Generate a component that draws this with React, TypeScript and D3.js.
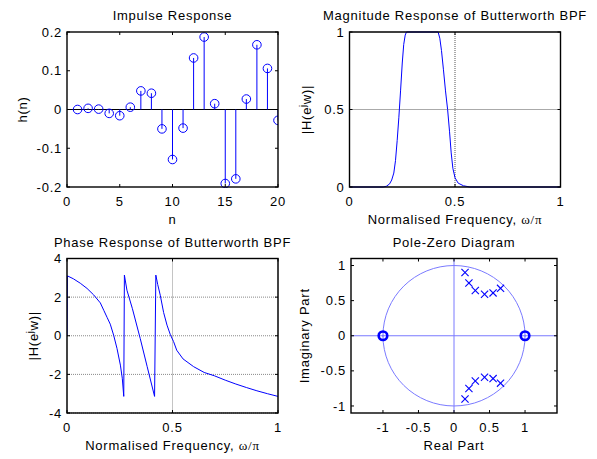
import React from 'react';
import * as d3 from 'd3';

const W = 597;
const H = 459;
const FONT = '"Liberation Sans", Arial, Helvetica, sans-serif';
const FS = 13;
const LS = 0.75;
const BLUE = '#0000ff';
const LIGHTBLUE = '#7a7aff';

// ---- Impulse response ----
const impulseN = [1, 2, 3, 4, 5, 6, 7, 8, 9, 10, 11, 12, 13, 14, 15, 16, 17, 18, 19, 20];
const impulseH = [0.0, 0.003, 0.001, -0.01, -0.016, 0.006, 0.048, 0.042, -0.05, -0.129, -0.048, 0.133, 0.187, 0.015, -0.191, -0.179, 0.027, 0.167, 0.106, -0.028];
const impulseXTicks = [0, 5, 10, 15, 20];
const impulseYTicks = [-0.2, -0.1, 0, 0.1, 0.2];

// ---- Magnitude response ----
const magFreq = [0, 0.16, 0.175, 0.19, 0.2, 0.21, 0.218, 0.226, 0.234, 0.242, 0.25, 0.257, 0.264, 0.27, 0.42, 0.428, 0.436, 0.445, 0.455, 0.465, 0.474, 0.482, 0.49, 0.5, 0.515, 0.54, 0.57, 1];
const magValue = [0, 0, 0.005, 0.02, 0.045, 0.09, 0.17, 0.3, 0.45, 0.62, 0.8, 0.92, 0.98, 1, 1, 0.96, 0.88, 0.76, 0.62, 0.5, 0.36, 0.22, 0.12, 0.06, 0.025, 0.008, 0, 0];
const magXTicks = [0, 0.5, 1];
const magYTicks = [0, 0.5, 1];

// ---- Phase response ----
const phaseFreq = [0, 0.002, 0.03, 0.063, 0.095, 0.126, 0.158, 0.175, 0.19, 0.205, 0.221, 0.237, 0.253, 0.262, 0.269, 0.272, 0.284, 0.31, 0.347, 0.38, 0.415, 0.421, 0.43, 0.442, 0.458, 0.474, 0.49, 0.505, 0.52, 0.55, 0.6, 0.65, 0.7, 0.75, 0.8, 0.85, 0.9, 0.95, 1.0];
const phaseValue = [0, 3.1, 2.95, 2.72, 2.45, 2.12, 1.7, 1.3, 0.95, 0.6, 0.03, -0.66, -1.52, -2.2, -3.14, 3.14, 2.36, 1.4, -0.14, -1.6, -3.14, 3.14, 2.65, 2.1, 1.2, 0.55, 0.05, -0.3, -0.75, -1.2, -1.6, -1.9, -2.08, -2.3, -2.5, -2.68, -2.85, -3.0, -3.14];
const phaseXTicks = [0, 0.5, 1];
const phaseYTicks = [-4, -2, 0, 2, 4];

// ---- Pole-zero ----
const poleRe = [0.155, 0.21, 0.3, 0.43, 0.55, 0.655, 0.155, 0.21, 0.3, 0.43, 0.55, 0.655];
const poleIm = [0.9, 0.75, 0.645, 0.59, 0.61, 0.675, -0.9, -0.75, -0.645, -0.59, -0.61, -0.675];
const zeroRe = [-1, 1];
const zeroIm = [0, 0];
const pzXTicks = [-1, -0.5, 0, 0.5, 1];
const pzYTicks = [-1, -0.5, 0, 0.5, 1];

type Box = { l: number; r: number; t: number; b: number };
type Scale = d3.ScaleLinear<number, number>;

interface AxesProps {
  id: string;
  box: Box;
  xDomain: [number, number];
  yDomain: [number, number];
  xTicks: number[];
  yTicks: number[];
  gridX?: number[];
  gridY?: number[];
  gridColor?: string;
  title: string;
  xlabel: React.ReactNode;
  ylabel: React.ReactNode;
  ylabelX: number;
  children: (x: Scale, y: Scale) => React.ReactNode;
}

function Axes(p: AxesProps) {
  const { box } = p;
  const x = d3.scaleLinear().domain(p.xDomain).range([box.l, box.r]);
  const y = d3.scaleLinear().domain(p.yDomain).range([box.b, box.t]);
  const tl = 3;
  const cx = (box.l + box.r) / 2;
  const cy = (box.t + box.b) / 2;
  const gc = p.gridColor || '#777';
  return (
    <g>
      <defs>
        <clipPath id={p.id}>
          <rect x={box.l} y={box.t - 1} width={box.r - box.l} height={box.b - box.t + 2} />
        </clipPath>
      </defs>
      {(p.gridX || []).map((v) => (
        <line key={'gx' + v} x1={x(v)} x2={x(v)} y1={box.t} y2={box.b} stroke={gc} strokeWidth={1} strokeDasharray="1,1" />
      ))}
      {(p.gridY || []).map((v) => (
        <line key={'gy' + v} x1={box.l} x2={box.r} y1={y(v)} y2={y(v)} stroke={gc} strokeWidth={1} strokeDasharray="1,1" />
      ))}
      <g clipPath={`url(#${p.id})`}>{p.children(x, y)}</g>
      <rect x={box.l} y={box.t} width={box.r - box.l} height={box.b - box.t} fill="none" stroke="#000" strokeWidth={1.4} />
      {p.xTicks.map((v) => (
        <g key={'xt' + v}>
          <line x1={x(v)} x2={x(v)} y1={box.b} y2={box.b - tl} stroke="#000" />
          <line x1={x(v)} x2={x(v)} y1={box.t} y2={box.t + tl} stroke="#000" />
          <text x={x(v)} y={box.b + 19} textAnchor="middle" fontFamily={FONT} fontSize={FS} letterSpacing={LS}>
            {String(v)}
          </text>
        </g>
      ))}
      {p.yTicks.map((v) => (
        <g key={'yt' + v}>
          <line x1={box.l} x2={box.l + tl} y1={y(v)} y2={y(v)} stroke="#000" />
          <line x1={box.r} x2={box.r - tl} y1={y(v)} y2={y(v)} stroke="#000" />
          <text x={box.l - 5} y={y(v) + 4.6} textAnchor="end" fontFamily={FONT} fontSize={FS} letterSpacing={LS}>
            {String(v)}
          </text>
        </g>
      ))}
      <text x={cx} y={box.t - 12} textAnchor="middle" fontFamily={FONT} fontSize={FS} letterSpacing={LS}>
        {p.title}
      </text>
      <text x={cx} y={box.b + 37} textAnchor="middle" fontFamily={FONT} fontSize={FS} letterSpacing={LS}>
        {p.xlabel}
      </text>
      <text transform={`translate(${p.ylabelX},${cy}) rotate(-90)`} textAnchor="middle" fontFamily={FONT} fontSize={FS} letterSpacing={LS}>
        {p.ylabel}
      </text>
    </g>
  );
}

const freqLabel = (
  <>
    Normalised Frequency, <tspan fontFamily='"Liberation Serif", "DejaVu Serif", serif'>ω/π</tspan>
  </>
);
const hLabel = (
  <>
    |H(e<tspan dy={-5} fontSize={9}>j</tspan>
    <tspan dy={5}>w)|</tspan>
  </>
);

export default function App() {
  const boxIR: Box = { l: 67, r: 278, t: 32, b: 187 };
  const boxMag: Box = { l: 349.5, r: 560.5, t: 32, b: 187 };
  const boxPh: Box = { l: 67, r: 278, t: 258.5, b: 413 };
  const boxPZ: Box = { l: 351, r: 557, t: 258.5, b: 413 };

  return (
    <svg width={W} height={H} style={{ position: 'absolute', left: 0, top: 0, background: '#fff' }}>
      <rect x={0} y={0} width={W} height={H} fill="#fff" />
      <Axes
        id="c1"
        box={boxIR}
        xDomain={[0, 20]}
        yDomain={[-0.2, 0.2]}
        xTicks={impulseXTicks}
        yTicks={impulseYTicks}
        title="Impulse Response"
        xlabel="n"
        ylabel="h(n)"
        ylabelX={27}
      >
        {(x, y) => (
          <g>
            <line x1={boxIR.l} x2={boxIR.r} y1={y(0)} y2={y(0)} stroke="#000" strokeWidth={1.2} />
            {impulseN.map((n, i) => (
              <g key={n}>
                <line x1={x(n)} x2={x(n)} y1={y(0)} y2={y(impulseH[i])} stroke={BLUE} strokeWidth={1} />
                <circle cx={x(n)} cy={y(impulseH[i])} r={4.3} fill="none" stroke={BLUE} strokeWidth={1} />
              </g>
            ))}
          </g>
        )}
      </Axes>
      <Axes
        id="c2"
        box={boxMag}
        xDomain={[0, 1]}
        yDomain={[0, 1]}
        xTicks={magXTicks}
        yTicks={magYTicks}
        gridX={magXTicks}
        gridY={magYTicks}
        gridColor="#555"
        title="Magnitude Response of Butterworth BPF"
        xlabel={freqLabel}
        ylabel={hLabel}
        ylabelX={311}
      >
        {(x, y) => {
          const line = d3
            .line<number>()
            .x((_, i) => x(magFreq[i]))
            .y((d) => y(d));
          return <path d={line(magValue) || ''} fill="none" stroke={BLUE} strokeWidth={1} />;
        }}
      </Axes>
      <Axes
        id="c3"
        box={boxPh}
        xDomain={[0, 1]}
        yDomain={[-4, 4]}
        xTicks={phaseXTicks}
        yTicks={phaseYTicks}
        gridX={phaseXTicks}
        gridY={phaseYTicks}
        gridColor="#888"
        title="Phase Response of Butterworth BPF"
        xlabel={freqLabel}
        ylabel={hLabel}
        ylabelX={38}
      >
        {(x, y) => {
          const line = d3
            .line<number>()
            .x((_, i) => x(phaseFreq[i]))
            .y((d) => y(d));
          return <path d={line(phaseValue) || ''} fill="none" stroke={BLUE} strokeWidth={1} />;
        }}
      </Axes>
      <Axes
        id="c4"
        box={boxPZ}
        xDomain={[-1.45, 1.45]}
        yDomain={[-1.1, 1.1]}
        xTicks={pzXTicks}
        yTicks={pzYTicks}
        title="Pole-Zero Diagram"
        xlabel="Real Part"
        ylabel="Imaginary Part"
        ylabelX={309}
      >
        {(x, y) => (
          <g>
            <ellipse cx={x(0)} cy={y(0)} rx={x(1) - x(0)} ry={y(0) - y(1)} fill="none" stroke={LIGHTBLUE} strokeWidth={1} />
            <line x1={boxPZ.l} x2={boxPZ.r} y1={y(0)} y2={y(0)} stroke={LIGHTBLUE} strokeWidth={1} />
            <line x1={x(0)} x2={x(0)} y1={boxPZ.t} y2={boxPZ.b} stroke={LIGHTBLUE} strokeWidth={1} />
            {zeroRe.map((re, i) => (
              <g key={'z' + i}>
                <circle cx={x(re)} cy={y(zeroIm[i])} r={4.3} fill="none" stroke={BLUE} strokeWidth={2.6} />
                <circle cx={x(re)} cy={y(zeroIm[i])} r={1} fill={LIGHTBLUE} />
              </g>
            ))}
            {poleRe.map((re, i) => {
              const px = x(re);
              const py = y(poleIm[i]);
              const s = 3.6;
              return (
                <g key={'p' + i} stroke={BLUE} strokeWidth={1.1}>
                  <line x1={px - s} x2={px + s} y1={py - s} y2={py + s} />
                  <line x1={px - s} x2={px + s} y1={py + s} y2={py - s} />
                </g>
              );
            })}
          </g>
        )}
      </Axes>
    </svg>
  );
}
